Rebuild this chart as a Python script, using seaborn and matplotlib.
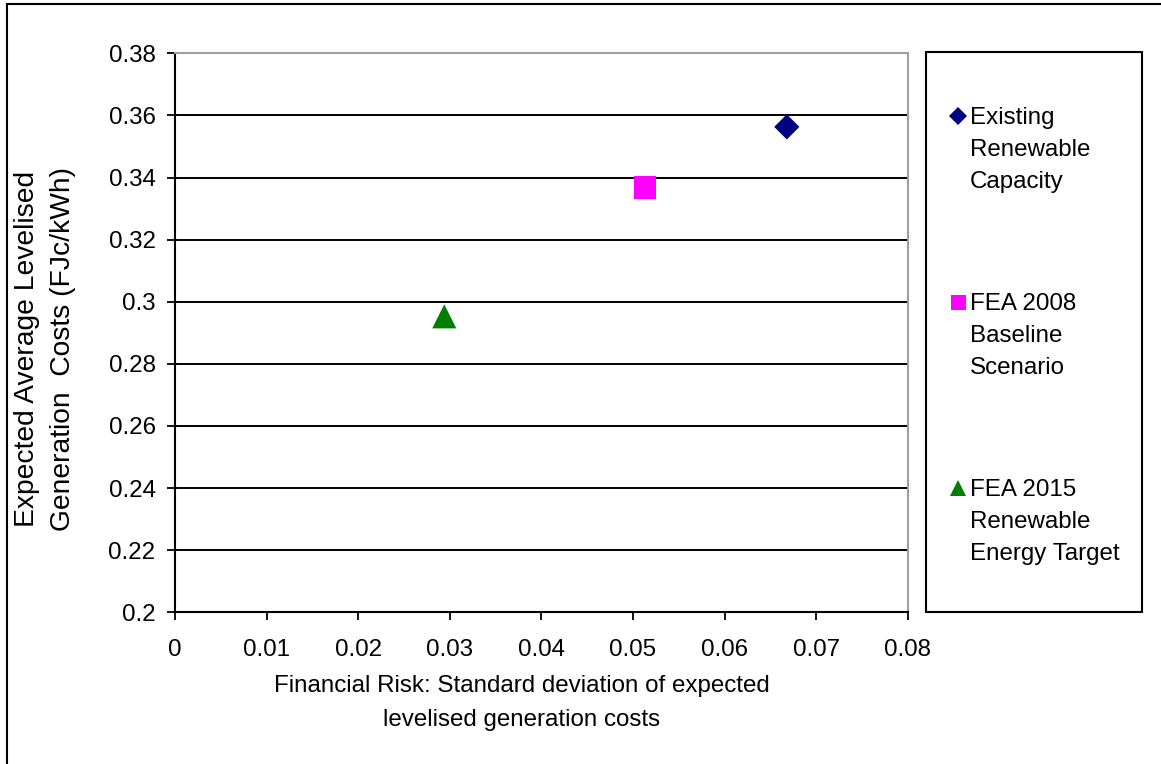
import matplotlib
matplotlib.use("Agg")
import matplotlib.pyplot as plt
from matplotlib.lines import Line2D
from matplotlib.patches import Rectangle
import pandas as pd
import seaborn as sns

# Portfolio scenarios: financial risk vs expected levelised generation cost
scenarios = [
    "Existing Renewable Capacity",
    "FEA 2008 Baseline Scenario",
    "FEA 2015 Renewable Energy Target",
]
legend_labels = [
    "Existing\nRenewable\nCapacity",
    "FEA 2008\nBaseline\nScenario",
    "FEA 2015\nRenewable\nEnergy Target",
]
risk = [0.0668, 0.0513, 0.0294]
cost = [0.3563, 0.3368, 0.2953]

x_ticks = [0, 0.01, 0.02, 0.03, 0.04, 0.05, 0.06, 0.07, 0.08]
x_tick_labels = ["0", "0.01", "0.02", "0.03", "0.04", "0.05", "0.06", "0.07", "0.08"]
y_ticks = [0.2, 0.22, 0.24, 0.26, 0.28, 0.3, 0.32, 0.34, 0.36, 0.38]
y_tick_labels = ["0.2", "0.22", "0.24", "0.26", "0.28", "0.3", "0.32", "0.34", "0.36", "0.38"]

colors = {scenarios[0]: "#000080", scenarios[1]: "#FF00FF", scenarios[2]: "#008000"}
markers = {scenarios[0]: "D", scenarios[1]: "s", scenarios[2]: "^"}
sizes = {scenarios[0]: 165, scenarios[1]: 262, scenarios[2]: 300}

df = pd.DataFrame({"scenario": scenarios, "risk": risk, "cost": cost})

sns.set_theme(style="white")
plt.rcParams["font.family"] = ["Liberation Sans", "DejaVu Sans"]
plt.rcParams["text.color"] = "black"
FS = 17.4
FS_Y = 20.3

fig = plt.figure(figsize=(11.61, 7.64), dpi=100)
fig.subplots_adjust(left=0.15073, right=0.78183, bottom=0.19856, top=0.93024)
ax = fig.add_subplot(111)

sns.scatterplot(
    data=df, x="risk", y="cost",
    hue="scenario", style="scenario", size="scenario",
    palette=colors, markers=markers, sizes=sizes,
    linewidth=0, legend=False, ax=ax, zorder=3,
)

ax.set_xlim(0, 0.08)
ax.set_ylim(0.2, 0.38)
ax.set_xticks(x_ticks)
ax.set_xticklabels(x_tick_labels)
ax.set_yticks(y_ticks)
ax.set_yticklabels(y_tick_labels)
ax.tick_params(axis="both", direction="out", length=6, width=1.3, color="black",
               labelsize=FS, labelcolor="black")
ax.tick_params(axis="x", bottom=True, pad=13)
ax.tick_params(axis="y", left=True, pad=8)

ax.yaxis.grid(True, color="black", linewidth=1.4)
ax.xaxis.grid(False)
ax.set_axisbelow(True)

for side in ("left", "bottom"):
    ax.spines[side].set_color("black")
    ax.spines[side].set_linewidth(1.5)
for side in ("top", "right"):
    ax.spines[side].set_color("#a0a0a0")
    ax.spines[side].set_linewidth(1.5)

ax.set_xlabel("Financial Risk: Standard deviation of expected\nlevelised generation costs",
              fontsize=FS, color="black", linespacing=1.7, va="center")
ax.xaxis.set_label_coords(0.473, -0.163)
ax.set_ylabel("Expected Average Levelised\nGeneration  Costs (FJc/kWh)",
              fontsize=FS_Y, color="black", linespacing=1.5, va="center")
ax.yaxis.set_label_coords(-0.1774, 0.471)

# Legend panel to the right of the plot
fig.add_artist(Rectangle((926 / 1161, 1 - 612 / 764), 216 / 1161, 560 / 764,
                         transform=fig.transFigure, fill=False,
                         edgecolor="black", linewidth=1.5))
handles = [
    Line2D([], [], linestyle="none", marker=markers[s], color=colors[s],
           markeredgewidth=0, markersize=ms)
    for s, ms in zip(scenarios, [8.7, 10.8, 11.5])
]
leg = fig.legend(handles, legend_labels, loc="center left",
                 bbox_to_anchor=(950.0 / 1161, 0.560), frameon=False,
                 fontsize=FS, handlelength=0.7, handletextpad=0.12,
                 labelspacing=4.15, borderpad=0, borderaxespad=0,
                 labelcolor="black")
for t in leg.get_texts():
    t.set_linespacing(1.58)
for column in leg._legend_handle_box.get_children():
    for item in column.get_children():
        item.align = "top"

# Outer chart border
fig.add_artist(Rectangle((7 / 1161, -0.05), 1.1, 1.05 - 4 / 764,
                         transform=fig.transFigure, fill=False,
                         edgecolor="black", linewidth=1.5))

fig.savefig("out.png", dpi=100)
